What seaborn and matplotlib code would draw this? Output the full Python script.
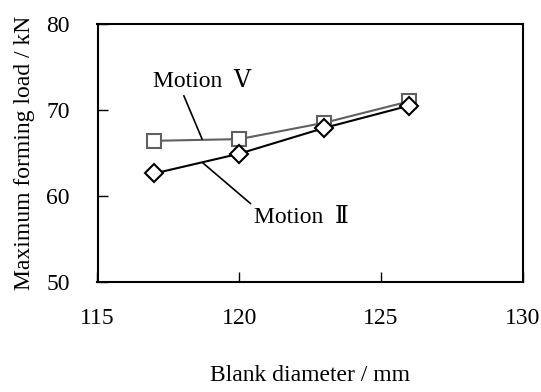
import matplotlib
matplotlib.use("Agg")
import matplotlib.pyplot as plt
import seaborn as sns
import pandas as pd

blank_diameter = [117, 120, 123, 126]
motion_v = [66.4, 66.6, 68.5, 71.0]
motion_ii = [62.6, 64.9, 67.9, 70.5]
x_ticks = [115, 120, 125, 130]
y_ticks = [50, 60, 70, 80]

sns.set_theme(style="white")
plt.rcParams['font.family'] = ['Liberation Serif', 'DejaVu Serif']

df_v = pd.DataFrame({"d": blank_diameter, "load": motion_v})
df_ii = pd.DataFrame({"d": blank_diameter, "load": motion_ii})

fig = plt.figure(figsize=(5.41, 3.92), dpi=100)
ax = fig.add_axes([97.5/541, (392-281.7)/392, (522.7-97.5)/541, (281.7-24)/392])

sns.lineplot(data=df_ii, x="d", y="load", ax=ax, color="black", lw=1.5,
             marker="D", markersize=9, markerfacecolor="white",
             markeredgecolor="black", markeredgewidth=1.5, zorder=3)
sns.lineplot(data=df_v, x="d", y="load", ax=ax, color="#606060", lw=1.5,
             marker="s", markersize=10.5, markerfacecolor="white",
             markeredgecolor="#606060", markeredgewidth=1.5, zorder=2)

ax.set_xlim(115, 130)
ax.set_ylim(50, 80)
ax.set_xticks(x_ticks)
ax.set_yticks(y_ticks)
ax.tick_params(direction="in", length=7, width=1, colors="black",
               labelsize=17, left=True, bottom=True)
ax.tick_params(axis="x", pad=19)
ax.tick_params(axis="y", pad=20)
for s in ax.spines.values():
    s.set_color("black")
    s.set_linewidth(1.5)

ax.set_xlabel("Blank diameter / mm", fontsize=17, color="black", labelpad=26)
ax.set_ylabel("Maximum forming load / kN", fontsize=17, color="black", labelpad=8)

ax.annotate("Motion  \u2164", xy=(118.69, 66.6), xytext=(116.96, 73.25),
            fontsize=17, va="center", ha="left", color="black",
            arrowprops=dict(arrowstyle="-", color="black", lw=1.2,
                            shrinkA=0, shrinkB=0, relpos=(0.3, 0)))
ax.annotate("Motion  \u2161", xy=(118.72, 63.82), xytext=(120.52, 57.53),
            fontsize=17, va="center", ha="left", color="black",
            arrowprops=dict(arrowstyle="-", color="black", lw=1.2,
                            shrinkA=0, shrinkB=0, relpos=(0, 1)))

fig.savefig("out.png", dpi=100)
